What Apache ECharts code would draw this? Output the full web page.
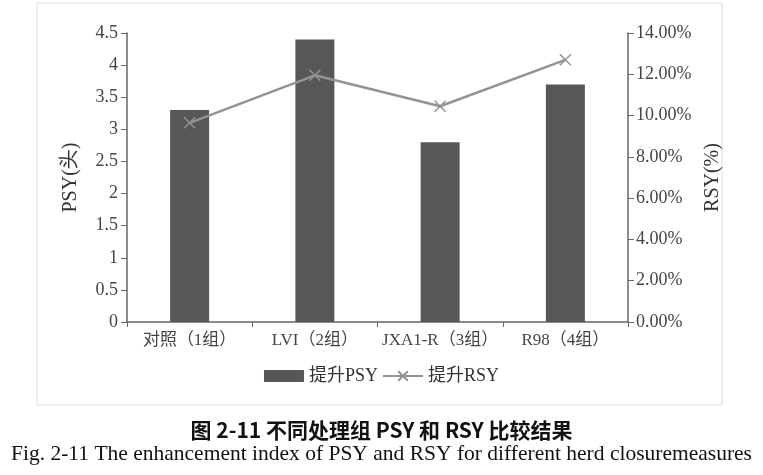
<!DOCTYPE html>
<html><head><meta charset="utf-8">
<script src="https://cdn.jsdelivr.net/npm/echarts@6/dist/echarts.min.js"></script>
<style>html,body{margin:0;padding:0;background:#fff}#c{width:763px;height:475px}</style>
</head><body><div id="c"></div>
<script>
const categories = ['对照（1组）', 'LVI（2组）', 'JXA1-R（3组）', 'R98（4组）'];
const psyValues = [3.3, 4.4, 2.8, 3.7];
const rsyValues = [9.65, 11.95, 10.45, 12.7];
const psyTicks = {min: 0, max: 4.5, interval: 0.5};
const rsyTicks = {min: 0, max: 14, interval: 2};

const serif = '"Liberation Serif", "Noto Sans CJK SC", serif';
const chart = echarts.init(document.getElementById('c'), null, {renderer: 'canvas'});
chart.setOption({
  backgroundColor: '#fff',
  animation: false,
  grid: {left: 127, right: 135, top: 33, bottom: 153},
  graphic: [
    {type: 'rect', shape: {x: 37, y: 3, width: 685, height: 402}, style: {fill: 'none', stroke: '#dcdcdc', lineWidth: 1}},
    {type: 'text', left: 'center', top: 420, style: {text: '图 2-11 不同处理组 PSY 和 RSY 比较结果', font: 'bold 21px "Noto Sans CJK SC", "Liberation Serif", sans-serif', fill: '#111'}},
    {type: 'text', left: 'center', top: 443, style: {text: 'Fig. 2-11 The enhancement index of PSY and RSY for different herd closuremeasures', font: '21.5px "Liberation Serif", serif', fill: '#111'}}
  ],
  legend: {
    bottom: 85, left: 'center',
    itemWidth: 40, itemHeight: 12, itemGap: 4,
    textStyle: {fontFamily: serif, fontSize: 18, color: '#333'},
    data: [{name: '提升PSY', icon: 'rect'}, {name: '提升RSY'}]
  },
  xAxis: {
    type: 'category', data: categories,
    axisLine: {lineStyle: {color: '#666', width: 1.5}},
    axisTick: {show: true, length: 5, lineStyle: {color: '#666'}},
    axisLabel: {fontFamily: serif, fontSize: 17, color: '#444', margin: 10, interval: 0, hideOverlap: false}
  },
  yAxis: [
    {
      type: 'value', name: 'PSY(头)', nameLocation: 'middle', nameGap: 46, nameRotate: 90,
      nameTextStyle: {fontFamily: serif, fontSize: 20, color: '#333'},
      min: psyTicks.min, max: psyTicks.max, interval: psyTicks.interval,
      axisLine: {show: true, lineStyle: {color: '#666', width: 1.5}},
      axisTick: {show: true, length: 6, lineStyle: {color: '#666'}},
      axisLabel: {fontFamily: serif, fontSize: 18, color: '#444', margin: 9},
      splitLine: {show: false}
    },
    {
      type: 'value', name: 'RSY(%)', nameLocation: 'middle', nameGap: 64, nameRotate: 90,
      nameTextStyle: {fontFamily: serif, fontSize: 20, color: '#333'},
      min: rsyTicks.min, max: rsyTicks.max, interval: rsyTicks.interval,
      axisLine: {show: true, lineStyle: {color: '#666', width: 1.5}},
      axisTick: {show: true, length: 6, lineStyle: {color: '#666'}},
      axisLabel: {fontFamily: serif, fontSize: 18, color: '#444', margin: 8, formatter: v => v.toFixed(2) + '%'},
      splitLine: {show: false}
    }
  ],
  series: [
    {name: '提升PSY', type: 'bar', data: psyValues, barWidth: 39, yAxisIndex: 0,
     itemStyle: {color: '#575757'}},
    {name: '提升RSY', type: 'line', data: rsyValues, yAxisIndex: 1,
     symbol: 'path://M0,0 L10,10 M10,0 L0,10', symbolSize: 11,
     lineStyle: {color: '#939393', width: 2.5},
     itemStyle: {color: '#939393', borderColor: '#939393', borderWidth: 1.5}}
  ]
});
</script></body></html>
